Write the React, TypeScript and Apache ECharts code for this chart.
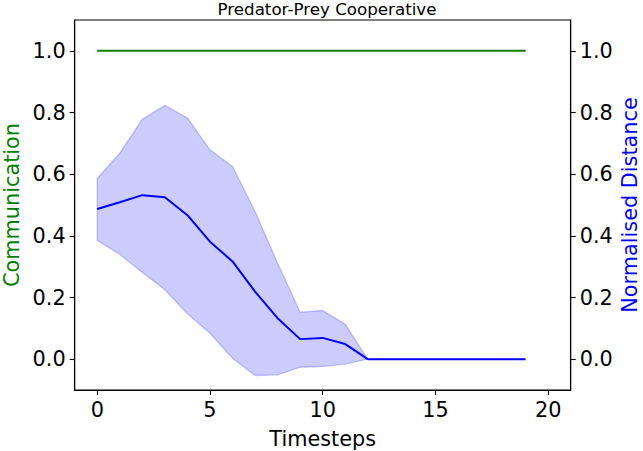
import React, { useEffect, useRef } from "react";
import * as echarts from "echarts";

const timesteps = [0, 1, 2, 3, 4, 5, 6, 7, 8, 9, 10, 11, 12, 13, 14, 15, 16, 17, 18, 19];
const communication = [1, 1, 1, 1, 1, 1, 1, 1, 1, 1, 1, 1, 1, 1, 1, 1, 1, 1, 1, 1];
const distanceMean = [0.487, 0.509, 0.532, 0.525, 0.467, 0.381, 0.317, 0.219, 0.133, 0.065, 0.069, 0.049, 0, 0, 0, 0, 0, 0, 0, 0];
const distanceUpper = [0.586, 0.668, 0.778, 0.823, 0.782, 0.679, 0.625, 0.479, 0.311, 0.152, 0.158, 0.113, 0, 0, 0, 0, 0, 0, 0, 0];
const distanceLower = [0.385, 0.34, 0.281, 0.225, 0.147, 0.084, 0.003, -0.053, -0.051, -0.026, -0.024, -0.016, 0, 0, 0, 0, 0, 0, 0, 0];
const xTicks = [0, 5, 10, 15, 20];
const yTicks = [0, 0.2, 0.4, 0.6, 0.8, 1.0];

const FONT = "DejaVu Sans";

export default function App() {
  const ref = useRef<HTMLDivElement>(null);
  useEffect(() => {
    if (!ref.current) return;
    const chart = echarts.init(ref.current, undefined, { renderer: "svg" });
    const yAxisBase = (position: "left" | "right") => ({
      type: "value",
      position,
      min: -0.1,
      max: 1.1,
      axisLine: { show: true, onZero: false, lineStyle: { color: "#000", width: 1.1 } },
      axisTick: { show: true, inside: false, length: 5, customValues: yTicks, lineStyle: { color: "#000", width: 1.1 } },
      axisLabel: {
        show: true,
        customValues: yTicks,
        margin: 9,
        color: "#000",
        fontFamily: FONT,
        fontSize: 20.8,
        formatter: (v: number) => v.toFixed(1),
      },
      splitLine: { show: false },
    });
    chart.setOption({
      animation: false,
      backgroundColor: "#fff",
      title: {
        text: "Predator-Prey Cooperative",
        left: 322,
        textAlign: "center",
        top: -5,
        textStyle: { fontFamily: FONT, fontSize: 16.7, fontWeight: "normal", color: "#000" },
      },
      graphic: [
        {
          type: "text",
          x: 12,
          y: 205,
          rotation: Math.PI / 2,
          style: { text: "Communication", fill: "#008000", font: `20.8px "${FONT}"`, align: "center", verticalAlign: "middle" },
        },
        {
          type: "text",
          x: 630,
          y: 205,
          rotation: Math.PI / 2,
          style: { text: "Normalised Distance", fill: "#0000ff", font: `20.8px "${FONT}"`, align: "center", verticalAlign: "middle" },
        },
      ],
      grid: {
        left: 74.7,
        right: 72.3,
        top: 20,
        bottom: 61,
        containLabel: false,
        outerBoundsMode: "none",
        show: true,
        borderColor: "#000",
        borderWidth: 1.1,
        backgroundColor: "transparent",
      },
      xAxis: {
        type: "value",
        min: -1,
        max: 21,
        name: "Timesteps",
        nameLocation: "middle",
        nameGap: 38,
        nameTextStyle: { color: "#000", fontFamily: FONT, fontSize: 20.8 },
        axisLine: { show: true, onZero: false, lineStyle: { color: "#000", width: 1.1 } },
        axisTick: { show: true, inside: false, length: 5, customValues: xTicks, lineStyle: { color: "#000", width: 1.1 } },
        axisLabel: { show: true, customValues: xTicks, margin: 9, color: "#000", fontFamily: FONT, fontSize: 20.8 },
        splitLine: { show: false },
      },
      yAxis: [yAxisBase("left"), yAxisBase("right")],
      series: [
        {
          type: "custom",
          yAxisIndex: 1,
          silent: true,
          z: 1,
          data: [[0, 0]],
          encode: { x: 0, y: 1 },
          renderItem: (_params: any, api: any) => {
            const pts: number[][] = [];
            for (let i = 0; i < timesteps.length; i++) pts.push(api.coord([timesteps[i], distanceUpper[i]]));
            for (let i = timesteps.length - 1; i >= 0; i--) pts.push(api.coord([timesteps[i], distanceLower[i]]));
            return {
              type: "polygon",
              shape: { points: pts },
              style: { fill: "rgba(0,0,255,0.2)", stroke: "rgba(0,0,255,0.2)", lineWidth: 1.4 },
            };
          },
        },
        {
          type: "line",
          yAxisIndex: 0,
          data: timesteps.map((t, i) => [t, communication[i]]),
          showSymbol: false,
          symbol: "none",
          lineStyle: { color: "#008000", width: 2 },
          z: 3,
        },
        {
          type: "line",
          yAxisIndex: 1,
          data: timesteps.map((t, i) => [t, distanceMean[i]]),
          showSymbol: false,
          symbol: "none",
          lineStyle: { color: "#0000ff", width: 2 },
          z: 3,
        },
      ],
    });
    return () => chart.dispose();
  }, []);
  return <div ref={ref} style={{ position: "fixed", left: 0, top: 0, width: 643, height: 451 }} />;
}
